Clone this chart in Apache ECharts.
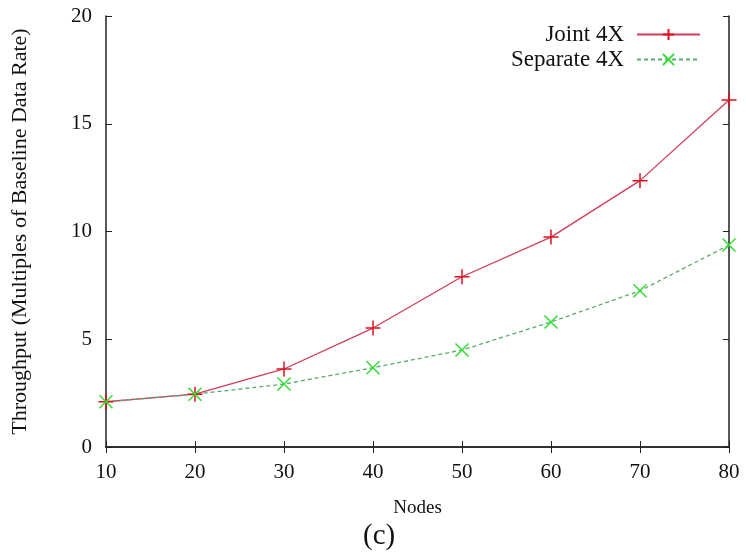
<!DOCTYPE html>
<html><head><meta charset="utf-8">
<script src="https://cdn.jsdelivr.net/npm/echarts@6/dist/echarts.min.js"></script>
<style>html,body{margin:0;padding:0;background:#fff}#c{width:746px;height:555px}</style>
</head><body><div id="c"></div>
<script>
const nodes = [10, 20, 30, 40, 50, 60, 70, 80];
const joint = [2.1, 2.45, 3.62, 5.52, 7.9, 9.74, 12.36, 16.1];
const separate = [2.1, 2.45, 2.92, 3.68, 4.5, 5.8, 7.25, 9.37];
const yTicks = [0, 5, 10, 15, 20];

const plus = 'path://M0,5 L10,5 M5,0 L5,10';
const cross = 'path://M0,0 L10,10 M10,0 L0,10';
const font = 'Liberation Serif';

const chart = echarts.init(document.getElementById('c'));
const pair = a => nodes.map((n, i) => [n, a[i]]);
chart.setOption({
  animation: false,
  backgroundColor: '#fff',
  textStyle: { fontFamily: font },
  grid: { left: 106, top: 16, right: 17, bottom: 108, containLabel: false, outerBoundsMode: 'none' },
  graphic: [{ type: 'text', left: 363, top: 522,
    style: { text: '(c)', font: '29px "Liberation Serif"', fill: '#111' } }],
  legend: {
    right: 45, top: 23, padding: 0, orient: 'vertical', align: 'right', itemWidth: 63, itemHeight: 14, itemGap: 2,
    textStyle: { fontFamily: font, fontSize: 23, color: '#111', padding: [0, 8, 0, 0] },
    data: ['Joint 4X', 'Separate 4X']
  },
  xAxis: [
    { type: 'value', min: 10, max: 80, interval: 10, name: 'Nodes', nameLocation: 'middle', nameGap: 52,
      nameTextStyle: { fontFamily: font, fontSize: 19, color: '#111' },
      axisLine: { lineStyle: { color: '#222', width: 1.5 } },
      axisTick: { inside: true, length: 6, lineStyle: { color: '#222' } },
      axisLabel: { fontFamily: font, fontSize: 21, color: '#111', margin: 15 },
      splitLine: { show: false } },
    { type: 'value', position: 'top', min: 10, max: 80, interval: 10,
      axisLine: { show: true, lineStyle: { color: '#222', width: 1.5 } },
      axisTick: { inside: true, length: 6, lineStyle: { color: '#222' } },
      axisLabel: { show: false }, splitLine: { show: false } }
  ],
  yAxis: [
    { type: 'value', min: 0, max: 20, interval: 5,
      name: 'Throughput (Multiples of Baseline Data Rate)', nameLocation: 'middle', nameGap: 75,
      nameTextStyle: { fontFamily: font, fontSize: 22, color: '#111' },
      axisLine: { show: true, lineStyle: { color: '#222', width: 1.5 } },
      axisTick: { show: true, inside: true, length: 6, lineStyle: { color: '#222' } },
      axisLabel: { fontFamily: font, fontSize: 21, color: '#111', margin: 14,
        formatter: v => yTicks.includes(v) ? String(v) : '' },
      splitLine: { show: false } },
    { type: 'value', position: 'right', min: 0, max: 20, interval: 5,
      axisLine: { show: true, lineStyle: { color: '#222', width: 1.5 } },
      axisTick: { show: true, inside: true, length: 6, lineStyle: { color: '#222' } },
      axisLabel: { show: false }, splitLine: { show: false } }
  ],
  series: [
    { name: 'Joint 4X', type: 'line', data: pair(joint), symbol: plus, symbolSize: 15,
      lineStyle: { color: '#d23c5a', width: 1.3 },
      itemStyle: { color: '#e0101e', borderColor: '#e0101e', borderWidth: 1.5 } },
    { name: 'Separate 4X', type: 'line', data: pair(separate), symbol: cross, symbolSize: 13,
      lineStyle: { color: '#5aaa6e', width: 1.3, type: [4, 3] },
      itemStyle: { color: '#33dd33', borderColor: '#33dd33', borderWidth: 1.5 } }
  ]
});
</script></body></html>
